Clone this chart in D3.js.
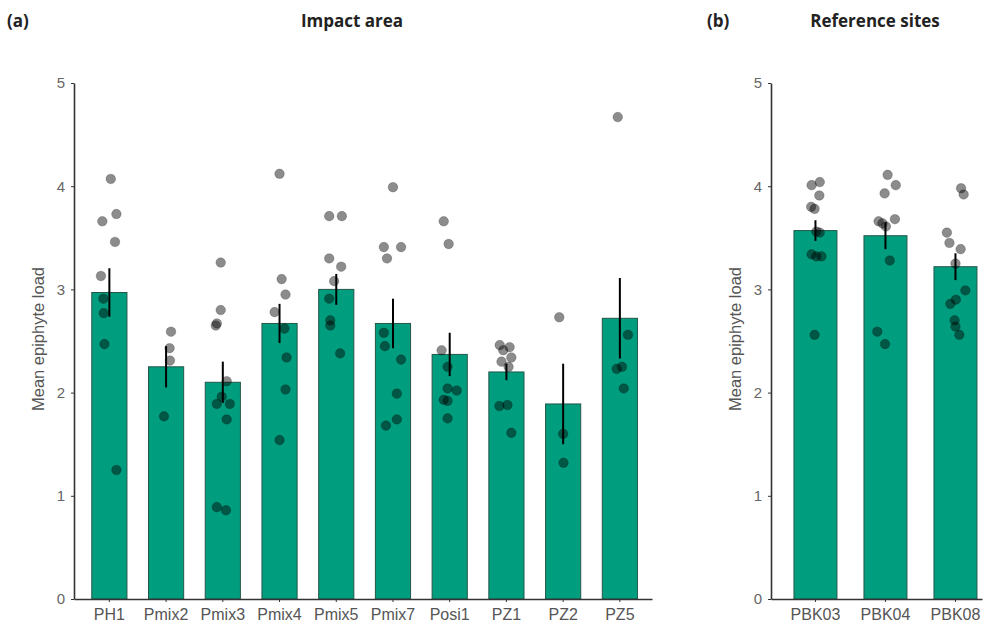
<!DOCTYPE html>
<html>
<head>
<meta charset="utf-8">
<script src="https://cdn.jsdelivr.net/npm/d3@7"></script>
<style>
    body { margin: 0; background: #fff; }
    svg { display: block; }
</style>
</head>
<body>
<svg id="chart" width="989" height="631"></svg>
<script>
// - - - - - - - - - -
// data
// - - - - - - - - - -
const yTicks = [0, 1, 2, 3, 4, 5];

const sitesA = ['PH1', 'Pmix2', 'Pmix3', 'Pmix4', 'Pmix5', 'Pmix7', 'Posi1', 'PZ1', 'PZ2', 'PZ5'];
const meansA = [2.97, 2.25, 2.10, 2.67, 3.00, 2.67, 2.37, 2.20, 1.89, 2.72];
const seA = [0.235, 0.20, 0.20, 0.19, 0.15, 0.24, 0.21, 0.08, 0.39, 0.39];
const pointsA = [
    [4.07, 3.73, 3.66, 3.46, 3.13, 2.91, 2.77, 2.47, 1.25],
    [2.59, 2.43, 2.31, 1.77],
    [3.26, 2.80, 2.67, 2.65, 2.11, 1.96, 1.89, 1.89, 1.74, 0.89, 0.86],
    [4.12, 3.10, 2.95, 2.78, 2.62, 2.34, 2.03, 1.54],
    [3.71, 3.71, 3.30, 3.22, 3.08, 2.91, 2.70, 2.65, 2.38],
    [3.99, 3.41, 3.41, 3.30, 2.58, 2.45, 2.32, 1.99, 1.74, 1.68],
    [3.66, 3.44, 2.41, 2.25, 2.04, 2.02, 1.93, 1.92, 1.75],
    [2.46, 2.44, 2.41, 2.34, 2.30, 2.25, 1.88, 1.87, 1.61],
    [2.73, 1.60, 1.32],
    [4.67, 2.56, 2.25, 2.23, 2.04]
];
// horizontal jitter of each point, as a share of the bar width
const jitterA = [
    [0.04, 0.2, -0.2, 0.16, -0.24, -0.17, -0.16, -0.14, 0.2],
    [0.14, 0.1, 0.11, -0.06],
    [-0.06, -0.06, -0.17, -0.2, 0.11, -0.03, -0.17, 0.2, 0.11, -0.17, 0.09],
    [0, 0.06, 0.17, -0.14, 0.14, 0.2, 0.17, 0],
    [-0.2, 0.16, -0.2, 0.14, -0.06, -0.2, -0.17, -0.17, 0.11],
    [0, -0.26, 0.23, -0.17, -0.26, -0.23, 0.23, 0.11, 0.11, -0.2],
    [-0.17, -0.03, -0.23, -0.06, -0.06, 0.2, -0.17, -0.06, -0.06],
    [-0.19, 0.09, -0.09, 0.14, -0.14, 0.06, 0.03, -0.2, 0.14],
    [-0.11, 0, 0.01],
    [-0.06, 0.23, 0.06, -0.09, 0.11]
];

const sitesB = ['PBK03', 'PBK04', 'PBK08'];
const meansB = [3.57, 3.52, 3.22];
const seB = [0.10, 0.13, 0.13];
const pointsB = [
    [4.04, 4.01, 3.91, 3.80, 3.78, 3.56, 3.55, 3.34, 3.32, 3.32, 2.56],
    [4.11, 4.01, 3.93, 3.68, 3.66, 3.64, 3.61, 3.28, 2.59, 2.47],
    [3.98, 3.92, 3.55, 3.45, 3.39, 3.25, 2.99, 2.90, 2.86, 2.70, 2.64, 2.56]
];
const jitterB = [
    [0.1, -0.09, 0.09, -0.1, -0.02, 0.02, 0.1, -0.09, 0.02, 0.14, -0.02],
    [0.05, 0.24, -0.02, 0.22, -0.16, -0.07, 0.01, 0.1, -0.19, -0.01],
    [0.13, 0.19, -0.2, -0.14, 0.12, 0, 0.23, 0.01, -0.12, -0.02, 0, 0.09]
];

// - - - - - - - - - -
const svg = d3.select('#chart');
const axisFont = '"Liberation Sans", Arial, sans-serif';
const titleFont = '"Open Sans", sans-serif';

const y = d3.scaleLinear().domain([0, 5]).range([599, 83]);

function drawPanel(opts) {
    const g = svg.append('g');

    const x = d3.scaleBand()
        .domain(opts.sites)
        .range(opts.range)
        .paddingInner(opts.padInner)
        .paddingOuter(opts.padOuter)
        .align(opts.align);

    const bw = x.bandwidth();
    const cx = (s) => x(s) + bw / 2;

    // bars
    g.selectAll('rect.bar')
        .data(opts.sites)
        .join('rect')
        .attr('class', 'bar')
        .attr('x', (d) => x(d))
        .attr('width', bw)
        .attr('y', (d, i) => y(opts.means[i]))
        .attr('height', (d, i) => y(0) - y(opts.means[i]))
        .attr('fill', '#009e7f')
        .attr('stroke', '#24574a')
        .attr('stroke-width', 1);

    // jittered points
    const pts = [];
    opts.sites.forEach((s, i) => {
        opts.points[i].forEach((v, j) => {
            pts.push({ site: s, v: v, j: opts.jitter[i][j] });
        });
    });

    g.selectAll('circle.pt')
        .data(pts)
        .join('circle')
        .attr('class', 'pt')
        .attr('cx', (d) => cx(d.site) + d.j * bw)
        .attr('cy', (d) => y(d.v))
        .attr('r', 4.8)
        .attr('fill', '#000')
        .attr('fill-opacity', 0.45)
        .attr('stroke', '#000')
        .attr('stroke-opacity', 0.2)
        .attr('stroke-width', 1);

    // error bars
    g.selectAll('line.err')
        .data(opts.sites)
        .join('line')
        .attr('class', 'err')
        .attr('x1', (d) => cx(d))
        .attr('x2', (d) => cx(d))
        .attr('y1', (d, i) => y(opts.means[i] + opts.se[i]))
        .attr('y2', (d, i) => y(opts.means[i] - opts.se[i]))
        .attr('stroke', '#000')
        .attr('stroke-width', 2);

    // axes
    const ax = g.append('g')
        .attr('transform', `translate(0,${y(0)})`)
        .call(d3.axisBottom(x).tickSize(3).tickPadding(7).tickSizeOuter(0));
    ax.selectAll('text')
        .attr('font-family', axisFont)
        .attr('font-size', 16)
        .attr('fill', '#555');

    const ay = g.append('g')
        .attr('transform', `translate(${opts.range[0]},0)`)
        .call(d3.axisLeft(y).tickValues(yTicks).tickFormat(d3.format('d')).tickSize(3).tickPadding(6).tickSizeOuter(0));
    ay.selectAll('text')
        .attr('font-family', axisFont)
        .attr('font-size', 15)
        .attr('fill', '#666');

    g.selectAll('.domain').attr('stroke', '#333').attr('stroke-width', 1.6);
    g.selectAll('.tick line').attr('stroke', '#333');

    g.append('text')
        .attr('transform', `translate(${opts.range[0] - 34},${(y(0) + y(5)) / 2 - 2}) rotate(-90)`)
        .attr('text-anchor', 'middle')
        .attr('dominant-baseline', 'middle')
        .attr('font-family', axisFont)
        .attr('font-size', 16.5)
        .attr('fill', '#555')
        .text('Mean epiphyte load');

    // panel titles
    g.append('text')
        .attr('x', opts.tagX).attr('y', 27)
        .attr('font-family', titleFont)
        .attr('font-weight', 'bold')
        .attr('font-size', 17)
        .attr('fill', '#222')
        .text(opts.tag);

    g.append('text')
        .attr('x', opts.titleX).attr('y', 27)
        .attr('text-anchor', 'middle')
        .attr('font-family', titleFont)
        .attr('font-weight', 'bold')
        .attr('font-size', 17)
        .attr('fill', '#222')
        .text(opts.title);
}

drawPanel({
    sites: sitesA, means: meansA, se: seA, points: pointsA, jitter: jitterA,
    range: [74, 652], padInner: 0.38, padOuter: 0.285, align: 0.55,
    tag: '(a)', tagX: 7, title: 'Impact area', titleX: 352
});

drawPanel({
    sites: sitesB, means: meansB, se: seB, points: pointsB, jitter: jitterB,
    range: [771, 982], padInner: 0.386, padOuter: 0.2, align: 0.82,
    tag: '(b)', tagX: 707, title: 'Reference sites', titleX: 875
});
</script>
</body>
</html>
